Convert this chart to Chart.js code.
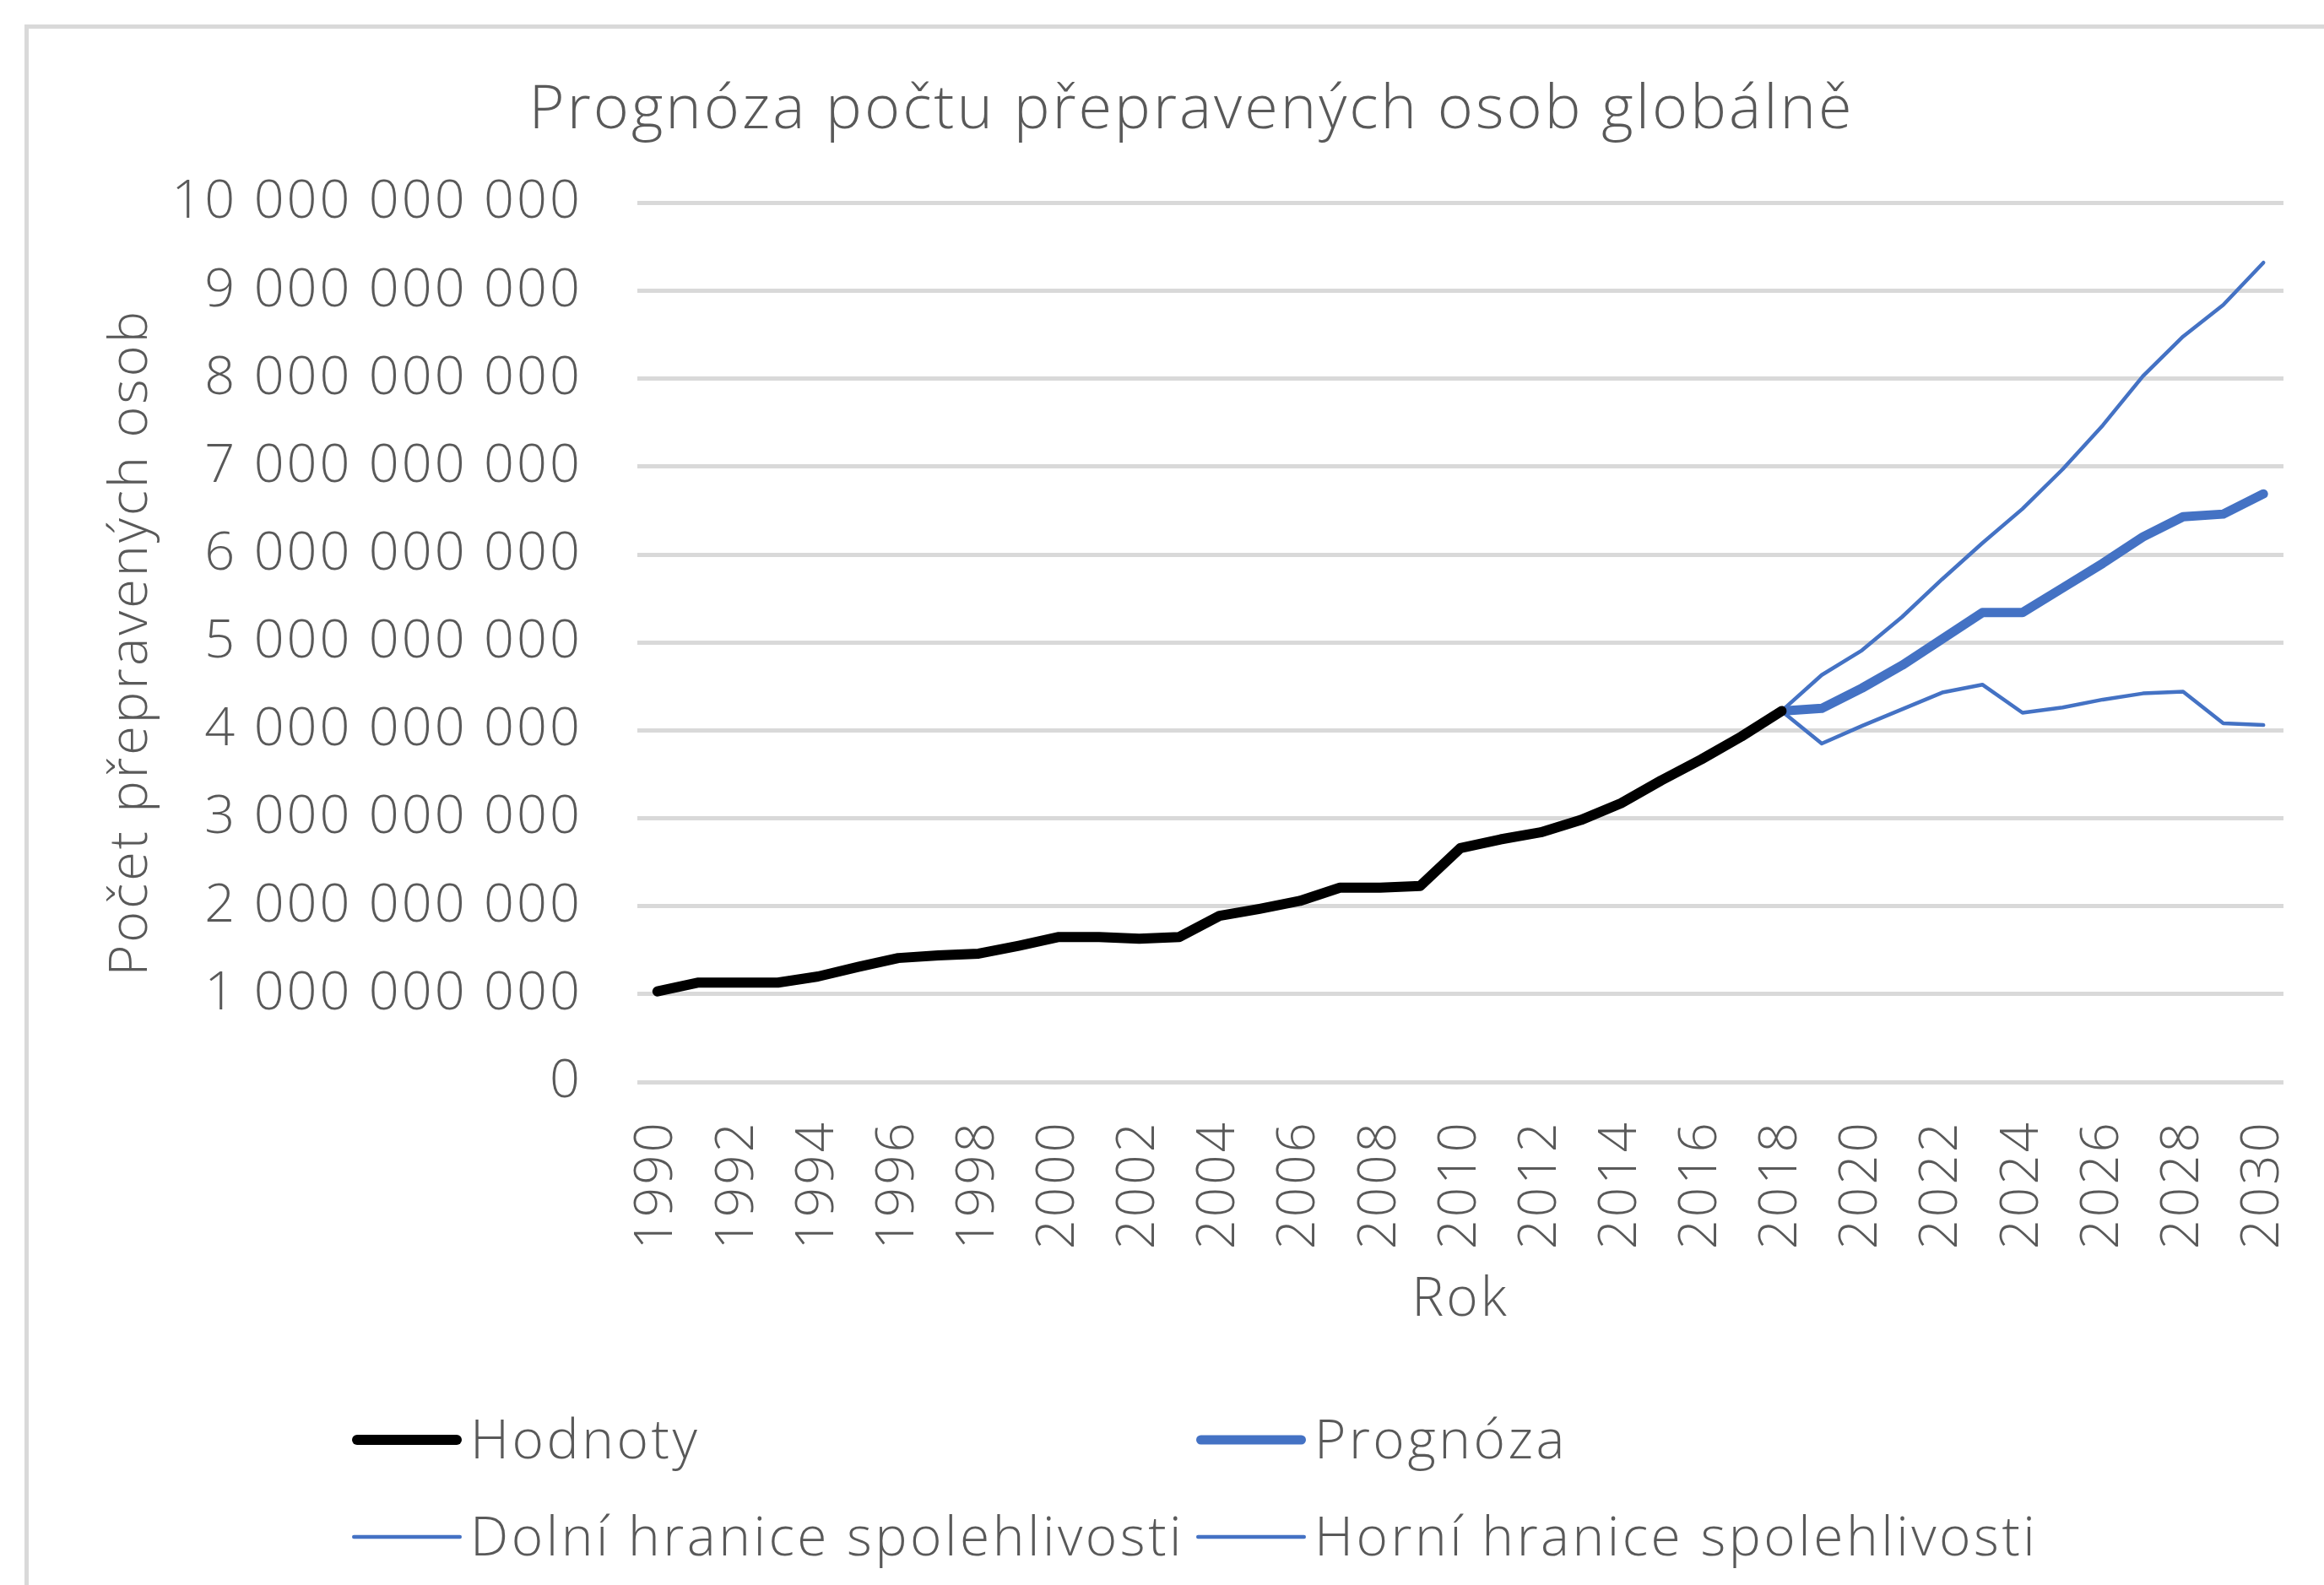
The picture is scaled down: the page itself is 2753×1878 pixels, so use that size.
<!DOCTYPE html>
<html>
<head>
<meta charset="utf-8">
<script src="https://cdn.jsdelivr.net/npm/chart.js@4.4.0/dist/chart.umd.min.js"></script>
<style>
  html, body { margin: 0; padding: 0; background: #fff; overflow: hidden; }
  #wrap { position: relative; width: 2753px; height: 1878px; }
  #ramecek { position: absolute; left: 29px; top: 29px; width: 3000px; height: 3000px; border: 5px solid #d9d9d9; }
  canvas { position: absolute; left: 0; top: 0; }
</style>
</head>
<body>
<div id="wrap">
  <div id="ramecek"></div>
  <canvas id="graf" width="2753" height="1878"></canvas>
</div>
<script>
// Roky na ose x
const roky = [
    "1990", "1991", "1992", "1993", "1994", "1995", "1996", "1997", "1998", "1999",
    "2000", "2001", "2002", "2003", "2004", "2005", "2006", "2007", "2008", "2009",
    "2010", "2011", "2012", "2013", "2014", "2015", "2016", "2017", "2018", "2019",
    "2020", "2021", "2022", "2023", "2024", "2025", "2026", "2027", "2028", "2029",
    "2030",
];

// Hodnoty 1990-2018 (mld. osob)
const hodnoty = [
    1.03, 1.13, 1.13, 1.13, 1.20, 1.31, 1.41, 1.44, 1.46, 1.55,
    1.65, 1.65, 1.63, 1.65, 1.89, 1.97, 2.06, 2.21, 2.21, 2.23,
    2.66, 2.76, 2.84, 2.98, 3.17, 3.43, 3.67, 3.93, 4.22,
];

// Prognóza a meze 2018-2030
const prognoza = [4.22, 4.25, 4.48, 4.74, 5.04, 5.34, 5.34, 5.62, 5.90, 6.20, 6.43, 6.46, 6.69];
const dolniMez = [4.22, 3.85, 4.05, 4.24, 4.43, 4.52, 4.20, 4.26, 4.35, 4.42, 4.44, 4.08, 4.06];
const horniMez = [4.22, 4.63, 4.91, 5.29, 5.72, 6.13, 6.52, 6.97, 7.47, 8.03, 8.48, 8.84, 9.32];

const MLD = 1e9;
const SEDA = "#595959";
const MODRA = "#4472c4";
const PISMO = "Open Sans";

// doplní prázdná místa, aby řada seděla na roky
function naRoky(hodnotyRady, odIndexu) {
    const out = roky.map(() => null);
    hodnotyRady.forEach((v, i) => {
        out[odIndexu + i] = v * MLD;
    });
    return out;
}

function formatCisla(v) {
    return String(Math.round(v)).replace(/\B(?=(\d{3})+(?!\d))/g, " ");
}

// trochu širší písmo (prostrkání), jako v originále
const prostrkaniPlugin = {
    id: "prostrkani",
    beforeDraw(chart) {
        chart.ctx.letterSpacing = "3px";
    },
};

// Legenda ve dvou sloupcích (jako v Excelu)
const legendaPlugin = {
    id: "legenda",
    afterDraw(chart) {
        const ctx = chart.ctx;
        const sloupce = [417, 1417];
        const radky = [1706, 1821];
        chart.data.datasets.forEach((ds, i) => {
            const x = sloupce[i % 2];
            const y = radky[Math.floor(i / 2)];
            ctx.save();
            ctx.strokeStyle = ds.borderColor;
            ctx.lineWidth = ds.borderWidth;
            ctx.lineCap = "round";
            ctx.beginPath();
            ctx.moveTo(x + ds.borderWidth / 2, y);
            ctx.lineTo(x + 130 - ds.borderWidth / 2, y);
            ctx.stroke();
            ctx.fillStyle = SEDA;
            ctx.font = `300 64px '${PISMO}'`;
            ctx.letterSpacing = "3.5px";
            ctx.textBaseline = "alphabetic";
            ctx.fillText(ds.label, x + 140, y + 22);
            ctx.restore();
        });
    },
};

const ctx = document.getElementById("graf").getContext("2d");

new Chart(ctx, {
    type: "line",
    data: {
        labels: roky,
        datasets: [
            {
                label: "Hodnoty",
                data: naRoky(hodnoty, 0),
                borderColor: "#000000",
                borderWidth: 12,
            },
            {
                label: "Prognóza",
                data: naRoky(prognoza, 28),
                borderColor: MODRA,
                borderWidth: 11,
            },
            {
                label: "Dolní hranice spolehlivosti",
                data: naRoky(dolniMez, 28),
                borderColor: MODRA,
                borderWidth: 4.5,
            },
            {
                label: "Horní hranice spolehlivosti",
                data: naRoky(horniMez, 28),
                borderColor: MODRA,
                borderWidth: 4.5,
            },
        ],
    },
    options: {
        responsive: false,
        animation: false,
        devicePixelRatio: 1,
        spanGaps: false,
        elements: {
            point: { radius: 0, hoverRadius: 0 },
            line: { tension: 0, borderCapStyle: "round", borderJoinStyle: "round" },
        },
        layout: {
            padding: { left: 118, right: 48, top: 0, bottom: 299 },
        },
        plugins: {
            legend: { display: false },
            tooltip: { enabled: false },
            title: {
                display: true,
                text: "Prognóza počtu přepravených osob globálně",
                color: SEDA,
                font: { family: PISMO, size: 72, weight: "300", lineHeight: 1.2 },
                padding: { top: 88, bottom: 66 },
            },
        },
        scales: {
            x: {
                offset: true,
                grid: { display: false, drawTicks: false },
                border: { display: false },
                ticks: {
                    autoSkip: false,
                    minRotation: 90,
                    maxRotation: 90,
                    padding: 45,
                    color: SEDA,
                    font: { family: PISMO, size: 62, weight: "300" },
                    callback: function (value, index) {
                        return index % 2 === 0 ? roky[index] : "";
                    },
                },
                title: {
                    display: true,
                    text: "Rok",
                    color: SEDA,
                    font: { family: PISMO, size: 64, weight: "300", lineHeight: 1.2 },
                    padding: 0,
                },
                afterFit: function (scale) {
                    scale.height = 297;
                    scale.paddingLeft = 0;
                    scale.paddingRight = 0;
                },
            },
            y: {
                min: 0,
                max: 10 * MLD,
                grid: { color: "#d9d9d9", lineWidth: 5, drawTicks: false },
                border: { display: false },
                ticks: {
                    stepSize: MLD,
                    padding: 65,
                    color: SEDA,
                    font: { family: PISMO, size: 63, weight: "300" },
                    callback: (v) => formatCisla(v),
                },
                title: {
                    display: true,
                    text: "Počet přepravených osob",
                    color: SEDA,
                    font: { family: PISMO, size: 63, weight: "300", lineHeight: 1.2 },
                    padding: 0,
                },
                afterFit: function (scale) {
                    scale.width = 637;
                },
            },
        },
    },
    plugins: [prostrkaniPlugin, legendaPlugin],
});
</script>
</body>
</html>
